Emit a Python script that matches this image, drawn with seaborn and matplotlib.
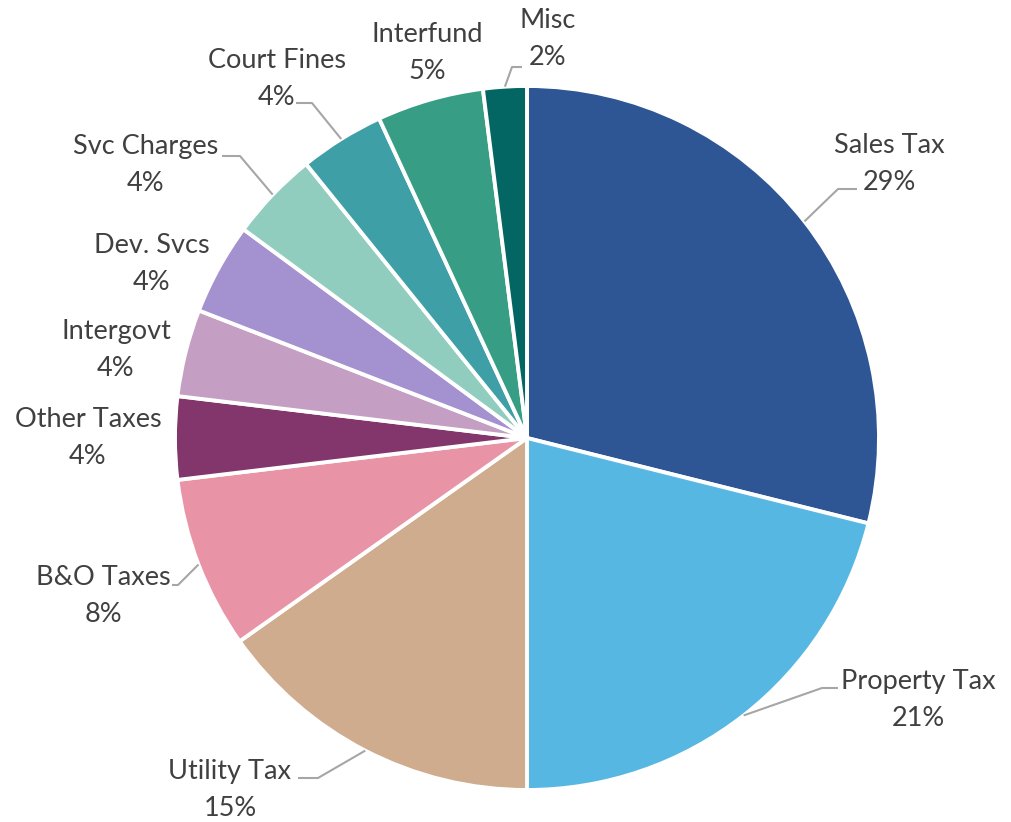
import numpy as np
import matplotlib
matplotlib.use("Agg")
import matplotlib.pyplot as plt
import seaborn as sns

# revenue shares, clockwise from 12 o'clock
categories = ["Sales Tax", "Property Tax", "Utility Tax", "B&O Taxes", "Other Taxes",
              "Intergovt", "Dev. Svcs", "Svc Charges", "Court Fines", "Interfund", "Misc"]
shares = [28.9, 21.1, 15.2, 7.9, 3.8, 4.0, 4.2, 4.1, 3.9, 4.9, 2.0]
pct_labels = ["29%", "21%", "15%", "8%", "4%", "4%", "4%", "4%", "4%", "5%", "2%"]
colors = ["#2E5594", "#56B8E2", "#CFAC8E", "#E993A6", "#83366C", "#C49EC3",
          "#A491CF", "#90CDBF", "#3E9FA6", "#379D84", "#036663"]

sns.set_theme(style="white")
plt.rcParams["font.family"] = ["Lato", "DejaVu Sans"]

W, H = 1012, 822
CX, CY, R = 527, 438, 352


def to_data(px, py):
    return (px - CX) / R, (CY - py) / R


fig = plt.figure(figsize=(W / 100, H / 100), dpi=100)
ax = fig.add_axes([0, 0, 1, 1])
wedges, _ = ax.pie(shares, colors=colors, startangle=90, counterclock=False,
                   radius=1.0, wedgeprops=dict(edgecolor="white", linewidth=2.8))
ax.set_xlim(-CX / R, (W - CX) / R)
ax.set_ylim((CY - H) / R, CY / R)
ax.set_aspect("equal")
ax.axis("off")

# label placement (pixel centres of name line) and leader elbows
label_pos = {
    "Sales Tax": (889, 145), "Property Tax": (918, 681), "Utility Tax": (230, 772),
    "B&O Taxes": (103, 577), "Other Taxes": (88, 419), "Intergovt": (116, 331),
    "Dev. Svcs": (152, 245), "Svc Charges": (146, 146), "Court Fines": (277, 60),
    "Interfund": (427, 34), "Misc": (548, 20),
}
# leader: (elbow px, end px)
leaders = {
    "Sales Tax": ((838, 189), (857, 189)),
    "Property Tax": ((822, 688), (838, 688)),
    "Utility Tax": ((318, 778), (298, 778)),
    "B&O Taxes": ((178, 585), (172, 585)),
    "Svc Charges": ((240, 156), (222, 156)),
    "Court Fines": ((312, 103), (296, 103)),
    "Misc": ((512, 67), (522, 67)),
}

txt = "#404040"
for w, name, pct in zip(wedges, categories, pct_labels):
    px, py = label_pos[name]
    x, y = to_data(px, py)
    ax.text(x, y, name, ha="center", va="center", fontsize=19.5, color=txt)
    x2, y2 = to_data(px, py + 37)
    ax.text(x2, y2, pct, ha="center", va="center", fontsize=19.5, color=txt)
    if name in leaders:
        mid = np.deg2rad((w.theta1 + w.theta2) / 2)
        sx, sy = np.cos(mid) * 1.0, np.sin(mid) * 1.0
        (ex, ey), (fx, fy) = leaders[name]
        e = to_data(ex, ey)
        f = to_data(fx, fy)
        ax.plot([sx, e[0], f[0]], [sy, e[1], f[1]], color="#A6A6A6", lw=1.5,
                solid_capstyle="butt")

fig.savefig("out.png", dpi=100, facecolor="white")
